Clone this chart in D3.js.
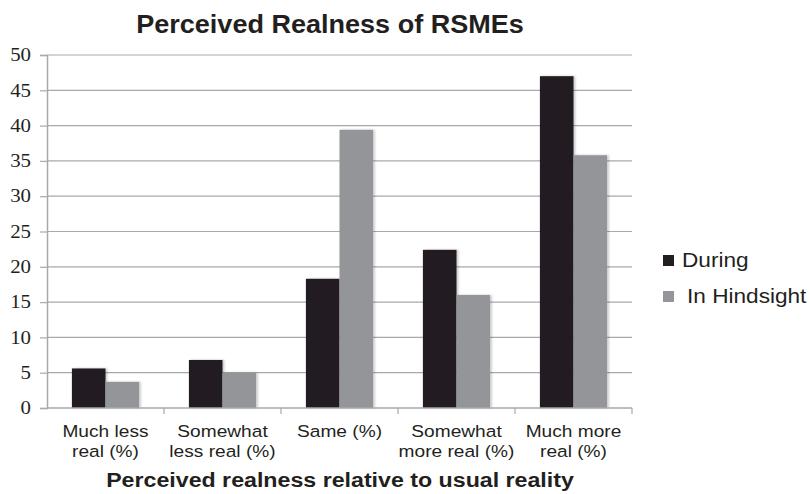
<!DOCTYPE html>
<html>
<head>
<meta charset="utf-8">
<script src="https://cdn.jsdelivr.net/npm/d3@7"></script>
<style>
  body { margin: 0; background: #fff; }
  svg text { fill: #231f20; }
</style>
</head>
<body>
<script>
// data
var categories = [["Much less", "real (%)"], ["Somewhat", "less real (%)"], ["Same (%)"],
  ["Somewhat", "more real (%)"], ["Much more", "real (%)"]]
var seriesNames = ["During", "In Hindsight"]
var during = [5.6, 6.8, 18.3, 22.4, 47.0]
var hindsight = [3.7, 5.0, 39.4, 16.0, 35.8]
var yTicks = [0, 5, 10, 15, 20, 25, 30, 35, 40, 45, 50]

var colors = ["#231f20", "#939598"]
var sans = "'Liberation Sans', Arial, sans-serif"
// the source picture is a little wider than tall, so text gets stretched
var sx = 1.16

var W = 810, H = 494
var margin = { top: 55, right: 178, bottom: 86, left: 47 },
  width = W - margin.left - margin.right,
  height = H - margin.top - margin.bottom

var svg = d3.select("body").append("svg")
  .attr("width", W)
  .attr("height", H)

// faint shadow next to the bars
var filter = svg.append("defs").append("filter")
  .attr("id", "shadow")
  .attr("x", "-20%").attr("y", "-5%")
  .attr("width", "140%").attr("height", "110%")
filter.append("feDropShadow")
  .attr("dx", 1.5).attr("dy", 0)
  .attr("stdDeviation", 1)
  .attr("flood-color", "#000")
  .attr("flood-opacity", 0.25)

var g = svg.append("g")
  .attr("transform", "translate(" + margin.left + "," + margin.top + ")")

var x = d3.scaleBand()
  .domain(d3.range(categories.length))
  .range([0, width])
  .paddingInner(0)

var inner = d3.scaleBand()
  .domain([0, 1])
  .range([x.bandwidth() * 0.213, x.bandwidth() * 0.787])

var y = d3.scaleLinear()
  .domain([0, 50])
  .range([height, 0])

// gridlines
g.selectAll(".grid")
  .data(yTicks.slice(1))
  .enter().append("line")
  .attr("x1", 0).attr("x2", width)
  .attr("y1", function(d) { return y(d) })
  .attr("y2", function(d) { return y(d) })
  .attr("stroke", "#a7a9ac")
  .attr("stroke-width", 1.2)

// y axis
var yAxis = d3.axisLeft(y).tickValues(yTicks).tickSize(7).tickPadding(8)
var ya = g.append("g").call(yAxis)
ya.select(".domain").attr("stroke", "#a7a9ac").attr("stroke-width", 1.5)
ya.selectAll(".tick line").attr("stroke", "#a7a9ac").attr("stroke-width", 1.2)
ya.selectAll(".tick text")
  .attr("x", -16 / sx)
  .attr("transform", "scale(" + sx + ",1)")
  .style("font-family", "'Liberation Serif', 'DejaVu Serif', serif")
  .style("font-size", "18px")
  .attr("fill", "#231f20")

// bars
var data = categories.map(function(c, i) { return [during[i], hindsight[i]] })

var groups = g.selectAll(".cat")
  .data(data)
  .enter().append("g")
  .attr("transform", function(d, i) { return "translate(" + x(i) + ",0)" })

groups.selectAll("rect")
  .data(function(d) { return d })
  .enter().append("rect")
  .attr("x", function(d, j) { return inner(j) })
  .attr("width", inner.bandwidth())
  .attr("y", function(d) { return y(d) })
  .attr("height", function(d) { return height - y(d) })
  .attr("fill", function(d, j) { return colors[j] })
  .attr("filter", "url(#shadow)")

// x axis line and ticks
g.append("line")
  .attr("x1", 0).attr("x2", width)
  .attr("y1", height).attr("y2", height)
  .attr("stroke", "#a7a9ac").attr("stroke-width", 1.5)

g.selectAll(".xtick")
  .data(d3.range(1, categories.length + 1))
  .enter().append("line")
  .attr("x1", function(d) { return d * x.step() })
  .attr("x2", function(d) { return d * x.step() })
  .attr("y1", height).attr("y2", height + 6)
  .attr("stroke", "#a7a9ac").attr("stroke-width", 1.2)

// category labels
var labels = g.selectAll(".xlab")
  .data(categories)
  .enter().append("text")
  .attr("text-anchor", "middle")
  .attr("transform", function(d, i) {
    return "translate(" + (x(i) + x.bandwidth() / 2) + "," + (height + 29) + ") scale(" + sx + ",1)"
  })
  .style("font-family", sans)
  .style("font-size", "16.5px")

labels.selectAll("tspan")
  .data(function(d) { return d })
  .enter().append("tspan")
  .attr("x", 0)
  .attr("dy", function(d, k) { return k == 0 ? 0 : 20 })
  .text(function(d) { return d })

// titles
svg.append("text")
  .attr("transform", "translate(330,33) scale(1.04,1)")
  .attr("text-anchor", "middle")
  .style("font-family", sans)
  .style("font-weight", "bold")
  .style("font-size", "26px")
  .text("Perceived Realness of RSMEs")

svg.append("text")
  .attr("transform", "translate(340,487) scale(" + sx + ",1)")
  .attr("text-anchor", "middle")
  .style("font-family", sans)
  .style("font-weight", "bold")
  .style("font-size", "20px")
  .text("Perceived realness relative to usual reality")

// legend
var legend = svg.selectAll(".legend")
  .data(seriesNames)
  .enter().append("g")
  .attr("transform", function(d, i) { return "translate(663," + (255 + i * 36) + ")" })

legend.append("rect")
  .attr("width", 11).attr("height", 11)
  .attr("fill", function(d, i) { return colors[i] })

legend.append("text")
  .attr("transform", function(d, i) { return "translate(" + (i == 0 ? 19 : 24) + ",12) scale(" + sx + ",1)" })
  .style("font-family", sans)
  .style("font-size", "19.5px")
  .text(function(d) { return d })
</script>
</body>
</html>
